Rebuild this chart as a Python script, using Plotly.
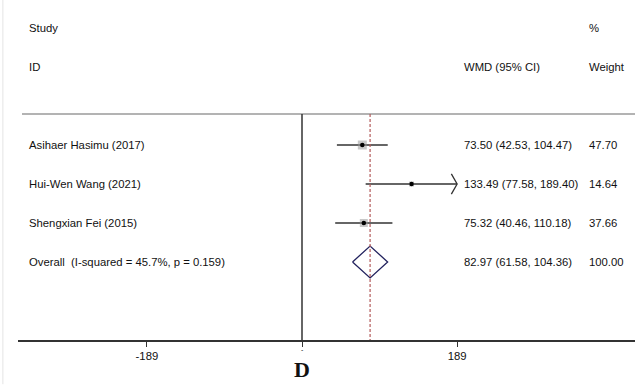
import plotly.graph_objects as go

# Study-level results (weighted mean difference, 95% CI, weight %)
studies = ["Asihaer Hasimu (2017)", "Hui-Wen Wang (2021)", "Shengxian Fei (2015)"]
wmd = [73.50, 133.49, 75.32]
ci_low = [42.53, 77.58, 40.46]
ci_high = [104.47, 189.40, 110.18]
weights = [47.70, 14.64, 37.66]

overall_label = "Overall  (I-squared = 45.7%, p = 0.159)"
overall_wmd = 82.97
overall_low = 61.58
overall_high = 104.36
overall_weight = 100.00

# Axis display limit (CIs beyond it are drawn with an arrow) and tick labels
axis_limit = 189
tick_vals = [-189, 0, 189]
tick_text = ["-189", "", "189"]
zero_tick_mark = "-"

TEXT = "#111111"
LINE = "#333333"
FONT = "Arial, Liberation Sans, sans-serif"
FS = 11.3

rows = list(range(1, len(studies) + 1))
overall_row = len(studies) + 1

fig = go.Figure()

# Confidence interval lines
for r, lo, hi in zip(rows, ci_low, ci_high):
    fig.add_trace(go.Scatter(x=[lo, min(hi, axis_limit)], y=[r, r], mode="lines",
                             line=dict(color=LINE, width=1.3), hoverinfo="skip"))
    if hi >= axis_limit:
        # open arrowhead for a truncated interval
        fig.add_trace(go.Scatter(x=[axis_limit - 7, axis_limit, axis_limit - 7],
                                 y=[r - 0.26, r, r + 0.26], mode="lines",
                                 line=dict(color=LINE, width=1.3), hoverinfo="skip"))

# Weight boxes (area proportional to study weight)
fig.add_trace(go.Scatter(
    x=wmd, y=rows, mode="markers",
    marker=dict(symbol="square", color="rgba(150,150,150,0.75)",
                size=[1.3 * w ** 0.5 for w in weights], line=dict(width=0)),
    hoverinfo="skip"))

# Point estimates
fig.add_trace(go.Scatter(x=wmd, y=rows, mode="markers",
                         marker=dict(symbol="circle", color="#000000", size=4.5),
                         hoverinfo="skip"))

# Pooled estimate diamond
h = 0.41
fig.add_trace(go.Scatter(
    x=[overall_low, overall_wmd, overall_high, overall_wmd, overall_low],
    y=[overall_row, overall_row - h, overall_row, overall_row + h, overall_row],
    mode="lines", line=dict(color="#22225e", width=1.3), hoverinfo="skip"))

y_top = 0.205
y_bottom = 6.0

shapes = [
    # faint page edge
    dict(type="line", xref="paper", yref="paper", x0=-0.0245, x1=-0.0245, y0=-0.13, y1=1,
         line=dict(color="#e4e4e4", width=1)),
    # header rule
    dict(type="line", xref="paper", yref="y", x0=0.0065, x1=1, y0=y_top, y1=y_top,
         line=dict(color="#9a9a9a", width=1.3)),
    # line of no effect
    dict(type="line", xref="x", yref="y", x0=0, x1=0, y0=y_top, y1=y_bottom,
         line=dict(color=LINE, width=1.5)),
    # pooled effect reference line
    dict(type="line", xref="x", yref="y", x0=overall_wmd, x1=overall_wmd, y0=y_top, y1=y_bottom,
         line=dict(color="#b35a5a", width=1.2, dash="3px,2px")),
]

annotations = []


def add_text(txt, xp, row, size=FS):
    annotations.append(dict(text=txt, xref="paper", yref="y", x=xp, y=row,
                            xanchor="left", yanchor="middle", showarrow=False,
                            font=dict(family=FONT, size=size, color=TEXT)))


col_study = 0.0145
col_est = 0.7195
col_wt = 0.922

add_text("Study", col_study, -2)
add_text("ID", col_study, -1)
add_text("WMD (95% CI)", col_est, -1)
add_text("%", col_wt, -2)
add_text("Weight", col_wt, -1)

for r, s, m, lo, hi, w in zip(rows, studies, wmd, ci_low, ci_high, weights):
    add_text(s, col_study, r)
    add_text(f"{m:.2f} ({lo:.2f}, {hi:.2f})", col_est, r)
    add_text(f"{w:.2f}", col_wt, r)

add_text(overall_label, col_study, overall_row)
add_text(f"{overall_wmd:.2f} ({overall_low:.2f}, {overall_high:.2f})", col_est, overall_row)
add_text(f"{overall_weight:.2f}", col_wt, overall_row)

# small mark under the zero tick
annotations.append(dict(text=zero_tick_mark, xref="x", yref="paper", x=0, y=-0.029,
                        xanchor="center", yanchor="middle", showarrow=False, borderpad=0,
                        font=dict(family=FONT, size=7, color=TEXT)))

# panel letter
annotations.append(dict(text="<b>D</b>", xref="x", yref="paper", x=0, y=-0.088,
                        xanchor="center", yanchor="middle", showarrow=False, borderpad=0,
                        font=dict(family="Liberation Serif, Times New Roman, serif",
                                  size=22, color=TEXT)))

scale = 155.1 / 189  # px per unit
fig.update_layout(
    width=635, height=385,
    margin=dict(l=18, r=0, t=0, b=45),
    paper_bgcolor="white", plot_bgcolor="white",
    showlegend=False,
    shapes=shapes, annotations=annotations,
    xaxis=dict(range=[(18 - 302) / scale, (635 - 302) / scale],
               tickvals=tick_vals, ticktext=tick_text,
               showline=True, linecolor=LINE, linewidth=1.5,
               ticks="outside", ticklen=5, tickwidth=1.3, tickcolor=LINE,
               showgrid=False, zeroline=False,
               tickfont=dict(family=FONT, size=FS, color=TEXT)),
    yaxis=dict(range=[y_bottom, -2.718], visible=False, showgrid=False, zeroline=False),
)

fig.write_html("out.html")
